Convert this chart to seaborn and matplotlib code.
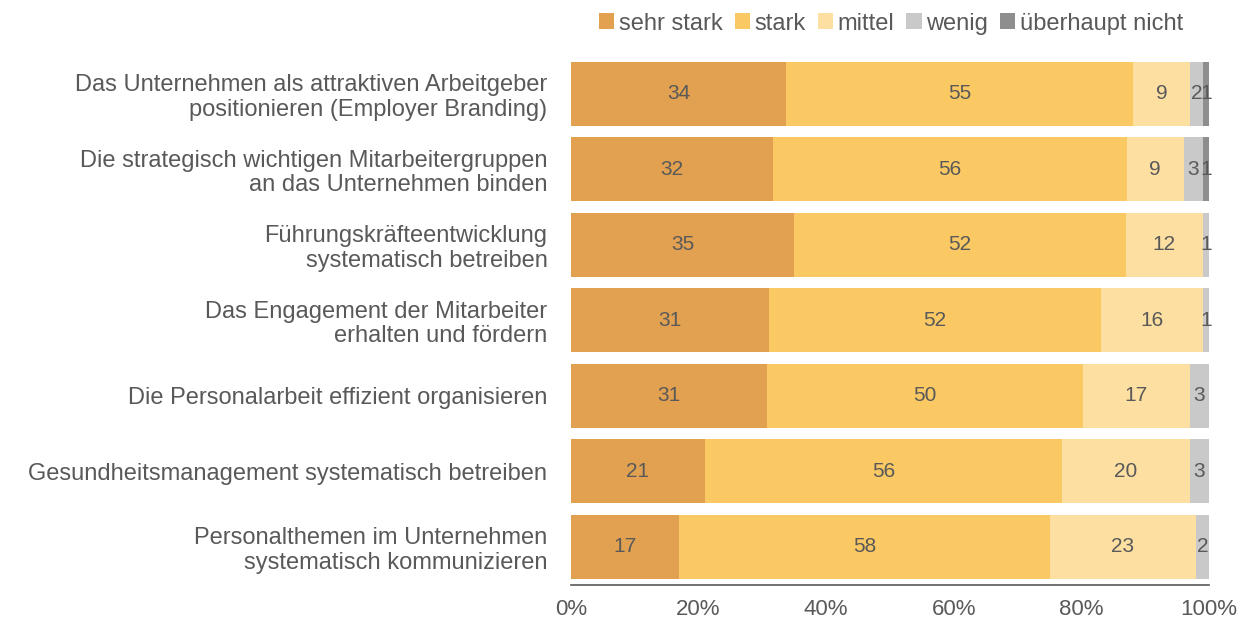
import matplotlib
matplotlib.use("Agg")
import matplotlib.pyplot as plt
import seaborn as sns
import pandas as pd
import numpy as np
from matplotlib.patches import Patch

statements = [
    "Das Unternehmen als attraktiven Arbeitgeber\npositionieren (Employer Branding)",
    "Die strategisch wichtigen Mitarbeitergruppen\nan das Unternehmen binden",
    "Führungskräfteentwicklung\nsystematisch betreiben",
    "Das Engagement der Mitarbeiter\nerhalten und fördern",
    "Die Personalarbeit effizient organisieren",
    "Gesundheitsmanagement systematisch betreiben",
    "Personalthemen im Unternehmen\nsystematisch kommunizieren",
]
levels = ["sehr stark", "stark", "mittel", "wenig", "überhaupt nicht"]

sehr_stark = [34, 32, 35, 31, 31, 21, 17]
stark = [55, 56, 52, 52, 50, 56, 58]
mittel = [9, 9, 12, 16, 17, 20, 23]
wenig = [2, 3, 1, 1, 3, 3, 2]
ueberhaupt_nicht = [1, 1, 0, 0, 0, 0, 0]

colors = ["#E2A150", "#FBC963", "#FDDFA2", "#C9C9C9", "#8E8E8E"]
text_color = "#595959"

sns.set_theme(style="white")
plt.rcParams["font.family"] = ["Liberation Sans", "DejaVu Sans"]

raw = np.array([sehr_stark, stark, mittel, wenig, ueberhaupt_nicht], dtype=float)
pct = raw / raw.sum(axis=0) * 100
cum = np.cumsum(pct, axis=0)

fig = plt.figure(figsize=(12.5, 6.22), dpi=100)
ax = fig.add_axes([0.4568, 0.060, 0.5104, 0.850])

# stacked bars: draw cumulative totals from the outermost level inwards
for k in range(len(levels) - 1, -1, -1):
    df = pd.DataFrame({"statement": statements, "value": cum[k]})
    sns.barplot(data=df, x="value", y="statement", order=statements,
                color=colors[k], saturation=1, width=0.85, ax=ax,
                orient="h", linewidth=0, errorbar=None)

# segment value labels
for k in range(len(levels)):
    starts = cum[k] - pct[k]
    for i in range(len(statements)):
        if raw[k, i] <= 0:
            continue
        ax.text(starts[i] + pct[k, i] / 2, i, f"{int(raw[k, i])}",
                ha="center", va="center", fontsize=15, color=text_color)

ax.set_xlim(0, 100)
ax.set_ylim(6.5, -0.5)
ax.set_xlabel("")
ax.set_ylabel("")
ax.set_xticks(np.arange(0, 101, 20))
ax.set_xticklabels([f"{v}%" for v in range(0, 101, 20)], fontsize=16, color=text_color)
ax.tick_params(axis="x", direction="out", length=7, width=1.2, color="#595959", pad=3)
ax.tick_params(axis="y", length=0, pad=17)
for lbl in ax.get_yticklabels():
    lbl.set_fontsize(17)
    lbl.set_color(text_color)
    lbl.set_horizontalalignment("right")
    lbl.set_multialignment("right")
    lbl.set_linespacing(1.15)

for side in ["top", "right", "left"]:
    ax.spines[side].set_visible(False)
ax.spines["bottom"].set_color("#595959")
ax.spines["bottom"].set_linewidth(1.2)

handles = [Patch(facecolor=c, edgecolor="none") for c in colors]
fig.legend(handles, levels, loc="center", bbox_to_anchor=(0.713, 0.962), ncol=5,
           frameon=False, fontsize=17, handlelength=0.65, handleheight=0.65,
           handletextpad=0.2, columnspacing=0.5, labelcolor=text_color)

fig.savefig("out.png", dpi=100)
